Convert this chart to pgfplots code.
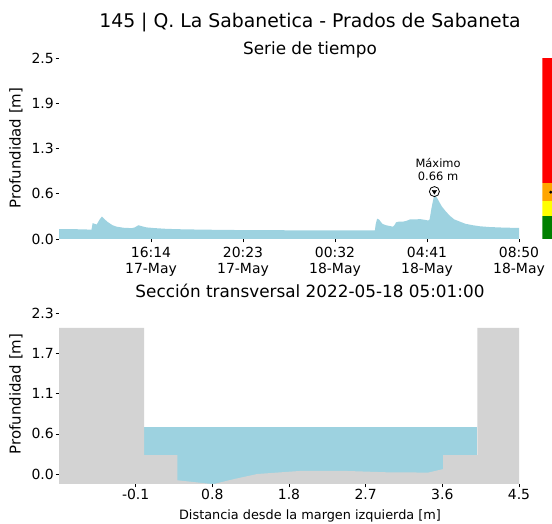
\documentclass[border=0pt]{standalone}
\usepackage{fontspec}
\setmainfont{DejaVu Sans}
\usepackage{pgfplots}
\pgfplotsset{compat=1.18}

\definecolor{agua}{RGB}{157,210,224}
\definecolor{suelo}{RGB}{211,211,211}
\definecolor{nrojo}{RGB}{255,0,0}
\definecolor{nnaranja}{RGB}{255,165,0}
\definecolor{namarillo}{RGB}{255,255,0}
\definecolor{nverde}{RGB}{0,128,0}

\pgfplotsset{
  panel/.style={
    scale only axis, width=460bp,
    axis x line*=bottom, axis y line*=left,
    axis line style={draw=none},
    tick align=outside, major tick length=3.5bp,
    tick style={black, line width=0.5bp},
    ticklabel style={font=\fontsize{14}{17}\selectfont, inner sep=1.5bp},
    xticklabel style={align=center},
    /pgf/number format/assume math mode=true,
  }
}

\begin{document}
\begin{tikzpicture}
\useasboundingbox (0,0) rectangle (552bp,524bp);

% serie de tiempo (minutos desde 12:05 del 17-May)
\begin{axis}[panel, at={(59bp,285bp)}, anchor=south west, height=181bp,
  xmin=0, xmax=1245, ymin=0, ymax=2.5,
  xtick={249,498,747,996,1245},
  xticklabels={{16:14\\17-May},{20:23\\17-May},{00:32\\18-May},{04:41\\18-May},{08:50\\18-May}},
  xticklabel style={yshift=-2.5bp, font=\fontsize{14}{16.5}\selectfont},
  ytick={0,0.625,1.25,1.875,2.5},
  yticklabels={0.0,0.6,1.3,1.9,2.5}]
\addplot[fill=agua, draw=none] coordinates {
(0,0.137) (40,0.136) (84,0.13) (88,0.13) (91,0.22) (96,0.21) (102,0.20)
(110,0.27) (116,0.31) (124,0.27) (133,0.23) (145,0.19) (156,0.17) (175,0.155)
(197,0.15) (205,0.16) (215,0.19) (225,0.175) (237,0.16) (260,0.15) (291,0.14)
(340,0.133) (382,0.13) (450,0.125) (550,0.122) (650,0.12) (750,0.12) (855,0.12)
(857,0.2) (861,0.28) (866,0.27) (875,0.21) (885,0.19) (904,0.17) (908,0.19)
(912,0.23) (920,0.24) (931,0.24) (940,0.25) (950,0.27) (965,0.27) (977,0.275)
(990,0.265) (999,0.255) (1003,0.27) (1009,0.45) (1016,0.62) (1024,0.56)
(1036,0.45) (1047,0.38) (1058,0.32) (1070,0.27) (1085,0.24) (1100,0.21)
(1120,0.19) (1140,0.175) (1166,0.165) (1200,0.158) (1245,0.152)
} \closedcycle;
\addplot[only marks, mark=*, mark size=5bp, mark options={fill=white, draw=black, line width=0.8bp}] coordinates {(1016,0.655)};
\addplot[only marks, mark=triangle*, mark size=2.6bp, mark options={fill=black, draw=black, rotate=180}] coordinates {(1016,0.655)};
\node[align=center, anchor=south, font=\fontsize{11.5}{13}\selectfont, inner sep=0pt] at (axis cs:1026,0.80) {Máximo\\0.66 m};
\end{axis}

% niveles de alerta
\begin{axis}[at={(542.3bp,285bp)}, anchor=south west, scale only axis,
  width=18bp, height=181bp, xmin=0, xmax=1, ymin=0, ymax=2.5, hide axis]
\addplot[fill=nverde, draw=none] coordinates {(0,0) (0,0.318) (1,0.318) (1,0)} -- cycle;
\addplot[fill=namarillo, draw=none] coordinates {(0,0.318) (0,0.53) (1,0.53) (1,0.318)} -- cycle;
\addplot[fill=nnaranja, draw=none] coordinates {(0,0.53) (0,0.78) (1,0.78) (1,0.53)} -- cycle;
\addplot[fill=nrojo, draw=none] coordinates {(0,0.78) (0,2.5) (1,2.5) (1,0.78)} -- cycle;
\addplot[only marks, mark=*, mark size=1.3bp, black] coordinates {(0.47,0.647)};
\end{axis}

% seccion transversal
\begin{axis}[panel, at={(59bp,40bp)}, anchor=south west, height=180bp,
  xmin=-1.01, xmax=4.51, ymin=-0.143, ymax=2.43,
  xtick={-0.09,0.83,1.75,2.67,3.59,4.51},
  xticklabels={-0.1,0.8,1.8,2.7,3.6,4.5},
  ytick={0,0.575,1.15,1.725,2.3},
  yticklabels={0.0,0.6,1.1,1.7,2.3}]
\addplot[fill=agua, draw=none] coordinates {(0.01,-0.143) (0.01,0.67) (4.01,0.67) (4.01,-0.143)} -- cycle;
\addplot[fill=suelo, draw=none] coordinates {
(-1.01,-0.143) (-1.01,2.09) (0.01,2.09) (0.01,0.27) (0.41,0.27) (0.41,-0.09)
(0.84,-0.145) (1.1,-0.07) (1.37,0.0) (1.9,0.045) (2.4,0.045) (2.9,0.025)
(3.42,0.02) (3.6,0.07) (3.6,0.27) (4.01,0.27) (4.01,2.09) (4.51,2.09) (4.51,-0.143)
} -- cycle;
\end{axis}

% textos
\node[anchor=base, font=\fontsize{18.9}{22}\selectfont] at (310bp,496bp) {145 | Q. La Sabanetica - Prados de Sabaneta};
\node[anchor=base, font=\fontsize{16.9}{20}\selectfont] at (310bp,469bp) {Serie de tiempo};
\node[anchor=base, font=\fontsize{16.9}{20}\selectfont] at (310bp,226.5bp) {Sección transversal 2022-05-18 05:01:00};
\node[anchor=base, font=\fontsize{12.9}{15}\selectfont] at (310bp,5bp) {Distancia desde la margen izquierda [m]};
\node[rotate=90, font=\fontsize{15}{18}\selectfont] at (16bp,376bp) {Profundidad [m]};
\node[rotate=90, font=\fontsize{15}{18}\selectfont] at (16bp,130bp) {Profundidad [m]};
\end{tikzpicture}
\end{document}
